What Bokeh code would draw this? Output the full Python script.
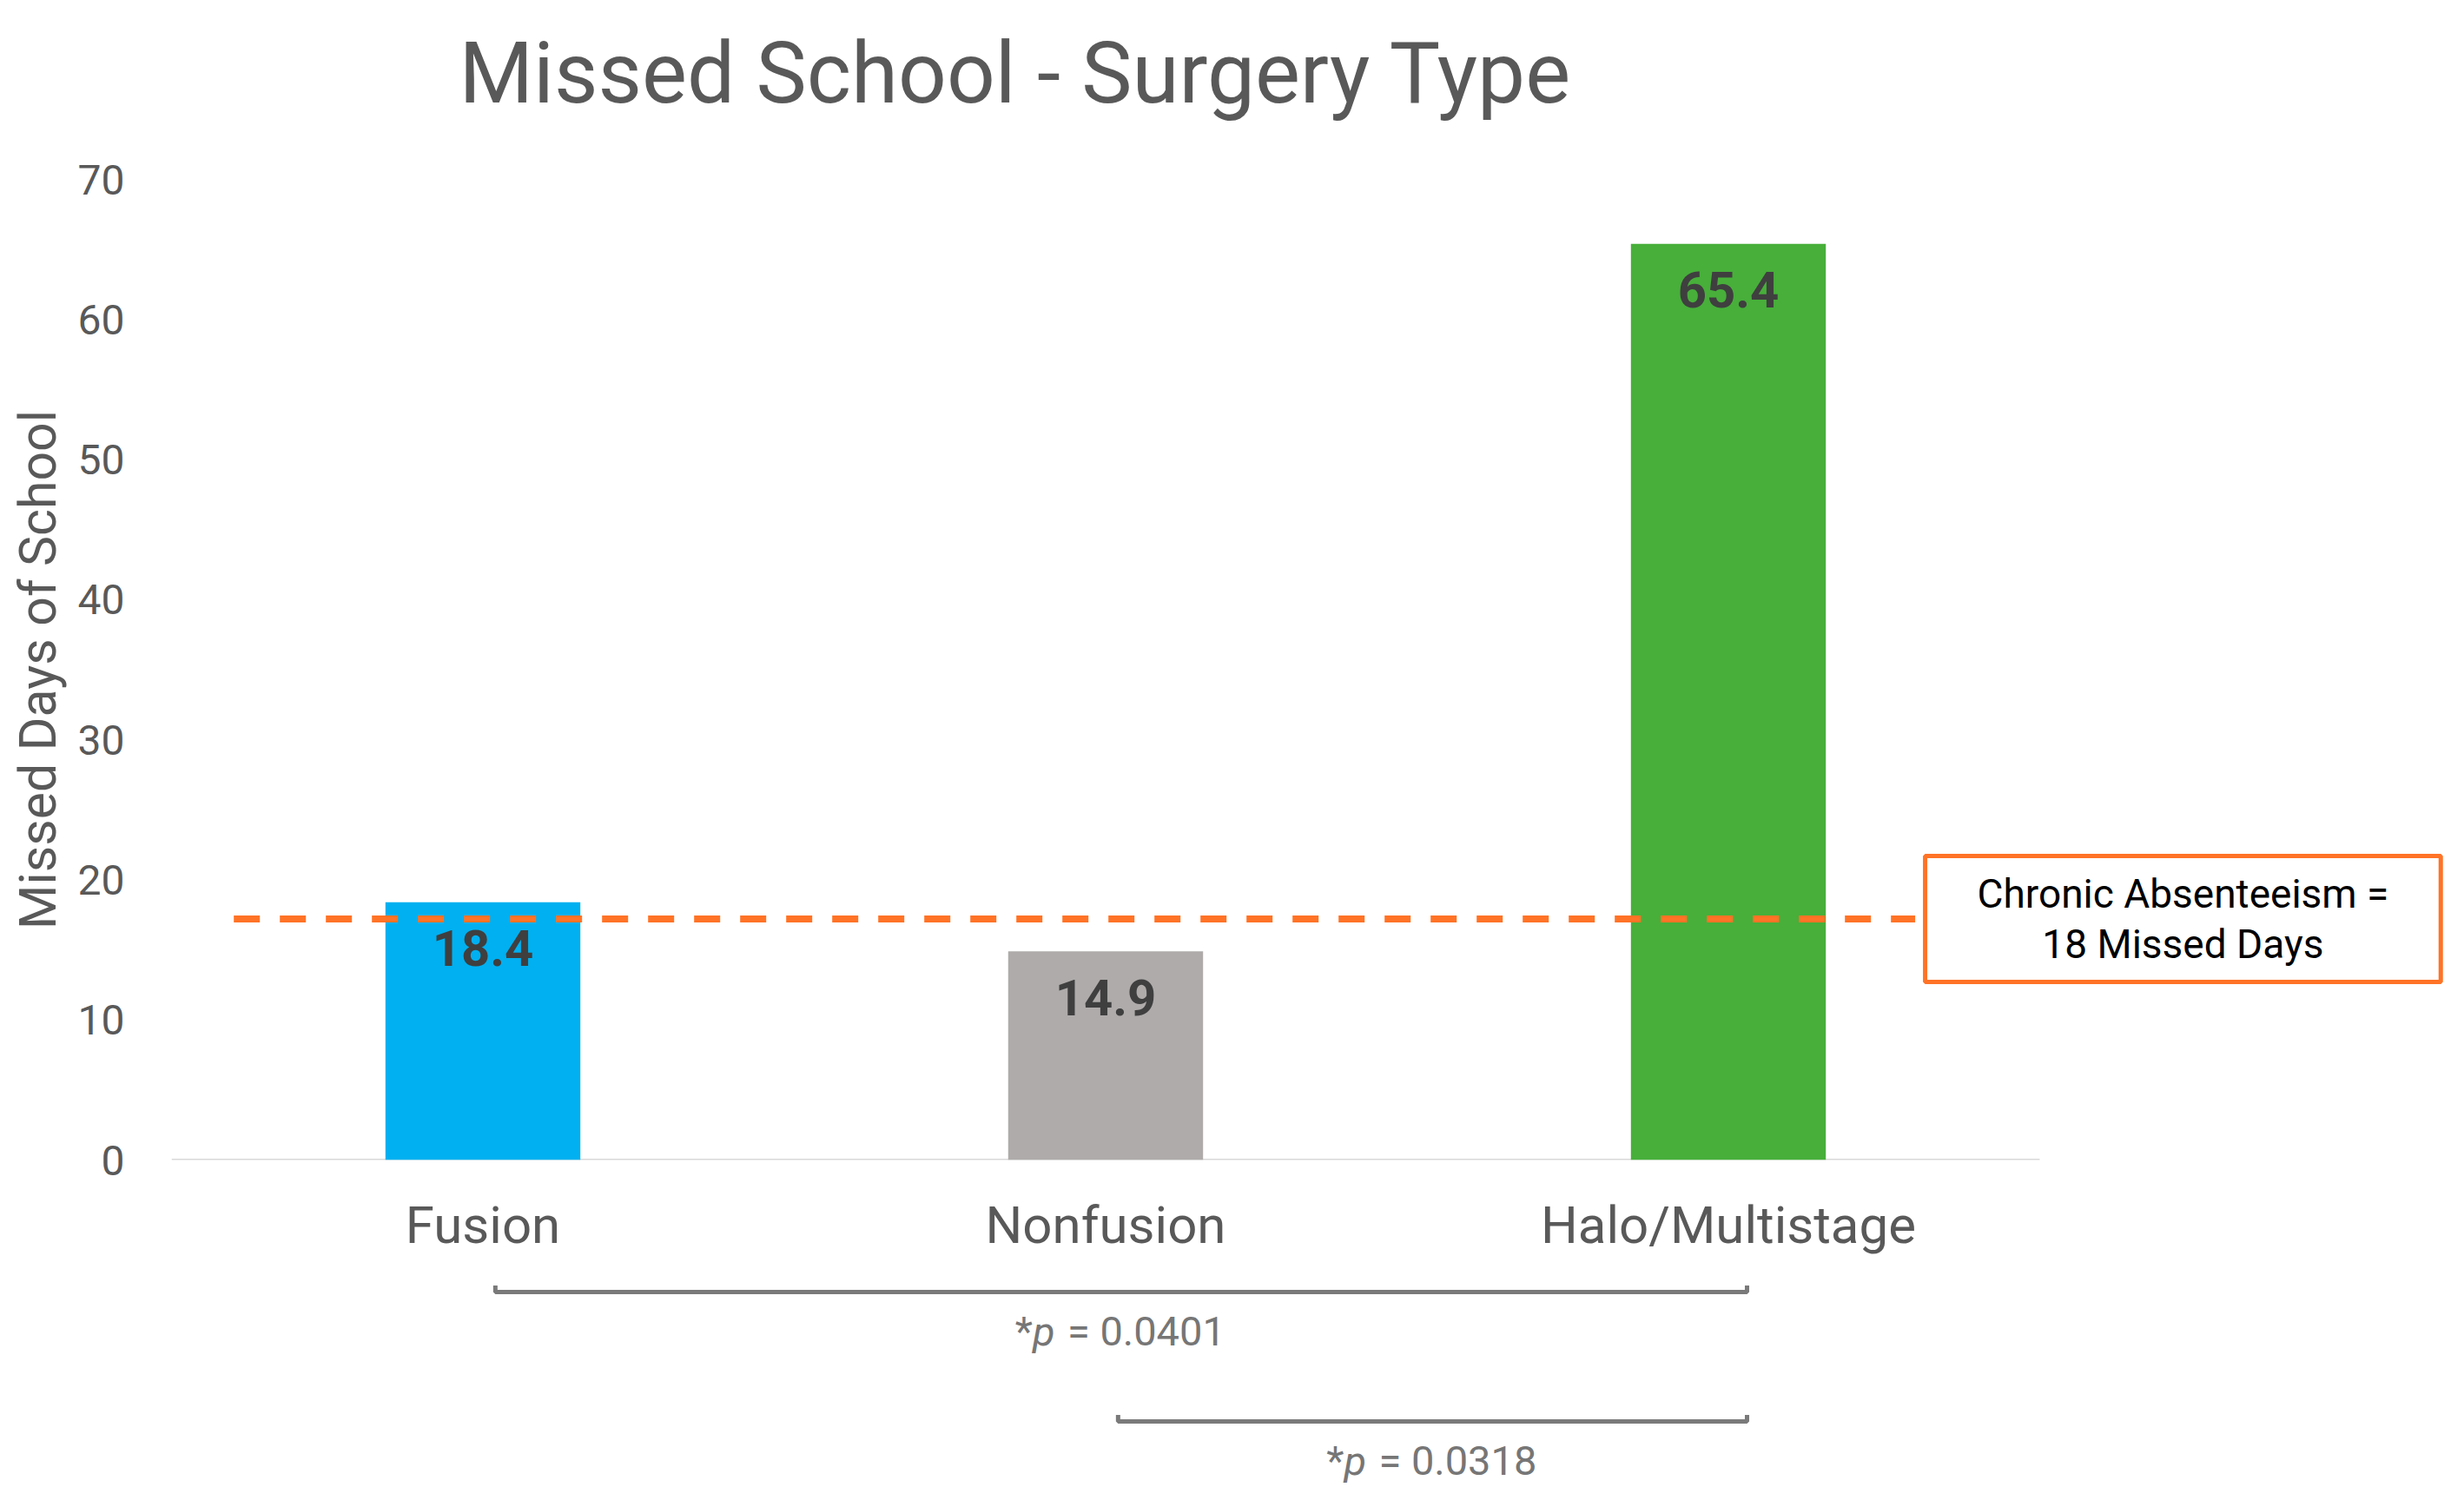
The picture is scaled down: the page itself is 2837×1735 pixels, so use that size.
from bokeh.plotting import figure
from bokeh.models import Range1d, FixedTicker, ColumnDataSource
from bokeh.layouts import column
from bokeh.core.properties import value
from bokeh.embed import file_html
from bokeh.resources import INLINE

# ---------------- data ----------------
title_text = "Missed School - Surgery Type"
categories = ["Fusion", "Nonfusion", "Halo/Multistage"]
missed_days = [18.4, 14.9, 65.4]
bar_colors = ["#00B0F0", "#AFABAB", "#47AF3A"]
value_labels = ["18.4", "14.9", "65.4"]
y_ticks = [0, 10, 20, 30, 40, 50, 60, 70]
threshold = 17.2
threshold_label = "Chronic Absenteeism =\n18 Missed Days"
comp_from = ["Fusion", "Nonfusion"]
comp_to = ["Halo/Multistage", "Halo/Multistage"]
comp_level = [1, 2]
comp_p = ["0.0401", "0.0318"]

FONT = "Roboto"
GRAY = "#595959"
ORANGE = "#FF7326"
W = 2821
LEFT = 197
XSCALE = 717.0

idx = {c: i for i, c in enumerate(categories)}
xc = [i + 0.5 for i in range(len(categories))]

x_range = Range1d(0, (W - LEFT) / XSCALE)

# ---------------- title strip ----------------
TH = 150
t = figure(width=W, height=TH, x_range=Range1d(LEFT, W), y_range=Range1d(0, TH),
           output_backend="svg", toolbar_location=None,
           min_border_left=LEFT, min_border_right=0, min_border_top=0,
           min_border_bottom=0, outline_line_color=None,
           x_axis_location=None, y_axis_location=None)
t.grid.visible = False
t.text(x=[528], y=[TH - 84], text=[title_text], text_align="left",
       text_baseline="middle", text_font=value(FONT),
       text_font_size="98px", text_color=GRAY)

# ---------------- main figure ----------------
MH = 1325
p = figure(width=W, height=MH, x_range=x_range, y_range=Range1d(0, 70),
           output_backend="svg", toolbar_location=None,
           min_border_left=LEFT, min_border_right=0, min_border_top=56,
           min_border_bottom=140, outline_line_color=None)
p.grid.visible = False
p.background_fill_color = "white"

# y axis
p.yaxis.ticker = FixedTicker(ticks=y_ticks)
p.yaxis.axis_line_color = None
p.yaxis.major_tick_line_color = None
p.yaxis.minor_tick_line_color = None
p.yaxis.major_tick_out = 0
p.yaxis.major_label_text_font = FONT
p.yaxis.major_label_text_font_size = "48px"
p.yaxis.major_label_text_color = GRAY
p.yaxis.major_label_standoff = 54
p.yaxis.axis_label = "Missed Days of School"
p.yaxis.axis_label_text_font = FONT
p.yaxis.axis_label_text_font_size = "59px"
p.yaxis.axis_label_text_font_style = "normal"
p.yaxis.axis_label_text_color = GRAY
p.yaxis.axis_label_standoff = 9

# x axis (category labels)
p.xaxis.ticker = FixedTicker(ticks=xc)
p.xaxis.major_label_overrides = {x: c for x, c in zip(xc, categories)}
p.xaxis.axis_line_color = None
p.xaxis.major_tick_line_color = None
p.xaxis.minor_tick_line_color = None
p.xaxis.major_tick_out = 0
p.xaxis.major_label_text_font = FONT
p.xaxis.major_label_text_font_size = "60px"
p.xaxis.major_label_text_color = GRAY
p.xaxis.major_label_standoff = 39

# baseline
p.segment(x0=[0], y0=[0], x1=[len(categories)], y1=[0],
          line_color="#D9D9D9", line_width=3)

src = ColumnDataSource(dict(x=xc, top=missed_days, color=bar_colors, lab=value_labels))
p.vbar(x="x", top="top", bottom=0, width=0.313, fill_color="color",
       line_color=None, source=src)

p.text(x="x", y="top", text="lab", source=src, text_align="center",
       text_baseline="middle", y_offset=53, text_font=value(FONT),
       text_font_size="58px", text_font_style="bold", text_color="#3F3F3F")

# threshold line
p.segment(x0=[0.1], y0=[threshold], x1=[2.80], y1=[threshold],
          line_color=ORANGE, line_width=8, line_dash="30 23")

# threshold box
bx_l, bx_r = 2.816, 3.644
bx_c = (bx_l + bx_r) / 2
p.rect(x=[bx_c], y=[threshold], width=[bx_r - bx_l],
       height=[145 / 16.13], fill_color="white", line_color=ORANGE, line_width=5)
p.text(x=[bx_c], y=[threshold], text=[threshold_label],
       text_align="center", text_baseline="middle", text_font=value(FONT),
       text_font_size="46px", text_color="black", text_line_height=1.08)

# ---------------- bracket figure ----------------
BH = 1719 - TH - MH
q = figure(width=W, height=BH, x_range=x_range, y_range=Range1d(-2.557, -0.919),
           output_backend="svg", toolbar_location=None,
           min_border_left=LEFT, min_border_right=0, min_border_top=0,
           min_border_bottom=0, outline_line_color=None,
           x_axis_location=None, y_axis_location=None)
q.grid.visible = False

tick = 0.05
bx0 = [idx[a] + 0.52 for a in comp_from]
bx1 = [idx[b] + 0.53 for b in comp_to]
by = [-lv for lv in comp_level]
xs = [[a, a, b, b] for a, b in zip(bx0, bx1)]
ys = [[y + tick, y, y, y + tick] for y in by]
q.multi_line(xs=xs, ys=ys, line_color="#7A7A7A", line_width=5)

mid = [(a + b) / 2 for a, b in zip(bx0, bx1)]
ty = [y - 0.30 for y in by]
PCOL = "#767676"
q.text(x=mid, y=ty, text=["*"] * len(mid), text_align="right", text_baseline="middle",
       x_offset=-102, text_font=value(FONT), text_font_size="47px", text_color=PCOL)
q.text(x=mid, y=ty, text=["p"] * len(mid), text_align="left", text_baseline="middle",
       x_offset=-102, text_font=value(FONT), text_font_size="47px",
       text_font_style="italic", text_color=PCOL)
q.text(x=mid, y=ty, text=["= " + v for v in comp_p], text_align="left",
       text_baseline="middle", x_offset=-62, text_font=value(FONT),
       text_font_size="47px", text_color=PCOL)

layout = column(t, p, q, spacing=0)
open("out.html", "w").write(file_html(layout, INLINE))
